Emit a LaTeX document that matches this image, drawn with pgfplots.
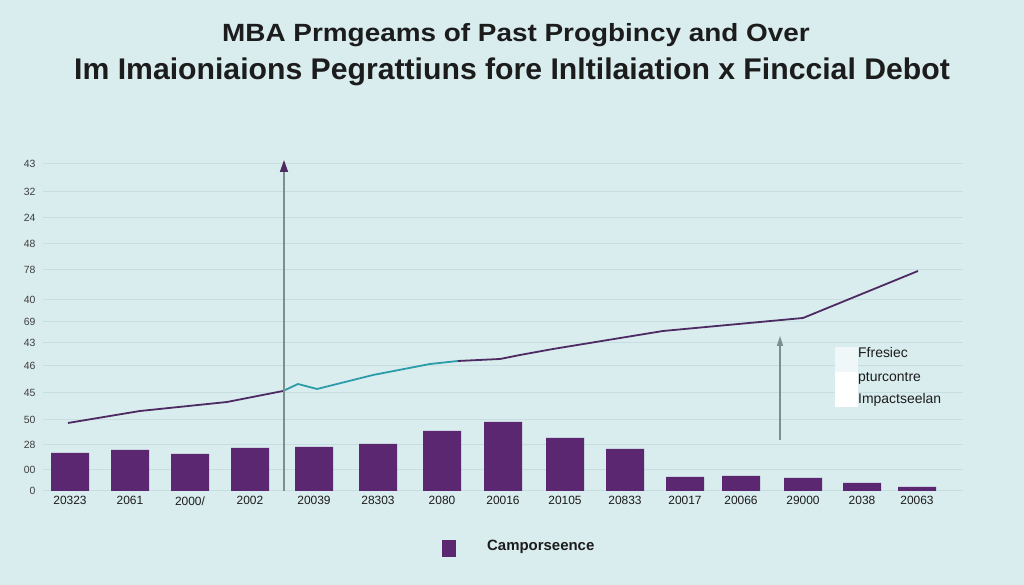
\documentclass[border=0pt]{standalone}
\usepackage{fontspec}
\setmainfont{Liberation Sans}
\usepackage{pgfplots}
\pgfplotsset{compat=1.18}
\usetikzlibrary{arrows.meta}
\definecolor{bgcol}{HTML}{D9ECEE}
\definecolor{barcol}{HTML}{5B2770}
\definecolor{linecol}{HTML}{4E2A62}
\definecolor{bluecol}{HTML}{2A9CAA}
\definecolor{gridcol}{HTML}{C6DEE1}
\definecolor{arrowgray}{HTML}{7D8D90}
\definecolor{txt}{HTML}{1C1C1C}
\begin{document}
\begin{tikzpicture}[x=1bp,y=1bp]
\useasboundingbox (0,0) rectangle (1024,585);
\fill[bgcol] (0,0) rectangle (1024,585);
\node[txt, font=\fontsize{25}{28}\selectfont\bfseries] at (516,550) {\scalebox{1.12}[1]{MBA Prmgeams of Past Progbincy and Over}};
\node[txt, font=\fontsize{30}{33}\selectfont\bfseries] at (512,513) {\scalebox{1.01}[1]{Im Imaioniaions Pegrattiuns fore Inltilaiation x Finccial Debot}};
\begin{axis}[
  at={(43bp,94bp)}, anchor=south west,
  width=920bp, height=327bp, scale only axis,
  xmin=43, xmax=963, ymin=0, ymax=327,
  clip=false,
  axis line style={draw=none},
  tick style={draw=none},
  ymajorgrids, grid style={gridcol, line width=1bp},
  ytick={0,21,46,71,98,125,148,169,191,221,247,273,299,327},
  yticklabels={0,00,28,50,45,46,43,69,40,78,48,24,32,43},
  yticklabel style={font=\fontsize{10.5}{12}\selectfont, text=txt!85, xshift=-4bp},
  xtick={70,130,190,250,314,378,442,503,565,625,685,741,803,862,917},
  xticklabels={20323,2061,2000/,2002,20039,28303,2080,20016,20105,20833,20017,20066,29000,2038,20063},
  xticklabel style={font=\fontsize{12}{14}\selectfont, text=txt, yshift=-2bp},
  /pgf/number format/assume math mode=true,
]
\addplot[ybar, bar width=38bp, fill=barcol, draw=none] coordinates {
(70,38) (130,41) (190,37) (250,43) (314,44) (378,47) (442,60) (503,69)
(565,53) (625,42) (685,14) (741,15) (803,13) (862,8) (917,4)};
\addplot[linecol, line width=1.8bp, sharp plot] coordinates {
(68,68) (140,80) (227,89) (283,100)};
\addplot[bluecol, line width=1.8bp, sharp plot] coordinates {
(283,100) (298,107) (317,102) (373,116) (430,127) (458,130)};
\addplot[linecol, line width=1.8bp, sharp plot] coordinates {
(458,130) (500,132) (520,136) (553,142) (663,160) (803,173) (918,220)};
\addplot[arrowgray, line width=1.5bp, -{Triangle[width=8bp,length=12bp,color=linecol]}] coordinates {(284,0) (284,331)};
\addplot[arrowgray, line width=1.5bp, -{Triangle[width=6bp,length=10bp]}] coordinates {(780,51) (780,155)};
\end{axis}
% right legend box
\fill[white!60!bgcol] (835,213) rectangle (858,238);
\fill[white] (835,178) rectangle (858,213);
\node[anchor=west, txt, font=\fontsize{14}{16}\selectfont, inner sep=0] at (858,232) {Ffresiec};
\node[anchor=west, txt, font=\fontsize{14}{16}\selectfont, inner sep=0] at (858,207) {pturcontre};
\node[anchor=west, txt, font=\fontsize{14}{16}\selectfont, inner sep=0] at (858,185) {Impactseelan};
% bottom legend
\fill[barcol] (442,28) rectangle (456,45);
\node[anchor=west, txt, font=\fontsize{15}{17}\selectfont\bfseries, inner sep=0] at (487,38) {Camporseence};
\end{tikzpicture}
\end{document}
